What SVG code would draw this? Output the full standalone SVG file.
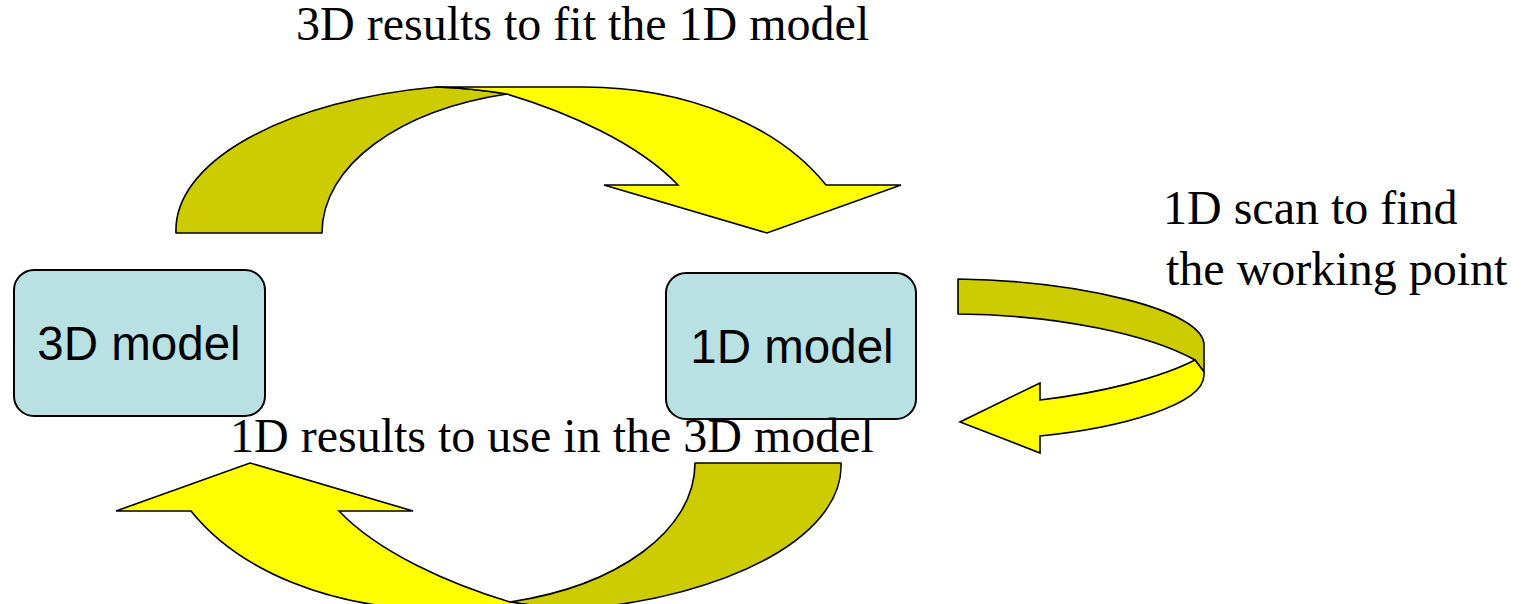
<svg xmlns="http://www.w3.org/2000/svg" width="1524" height="604" viewBox="0 0 1524 604">
  <style>
    .back { fill: #cccc00; stroke: #000; stroke-width: 1.6; stroke-linejoin: round; }
    .front { fill: #ffff00; stroke: #000; stroke-width: 1.6; stroke-linejoin: miter; }
    .box { fill: #b9e0e3; stroke: #000; stroke-width: 2; }
    .boxlabel { font-family: "Liberation Sans", Arial, sans-serif; font-size: 47.5px; fill: #000; text-anchor: middle; }
    .label { font-family: "Liberation Serif", "Times New Roman", serif; font-size: 48px; fill: #000; }
  </style>
  <defs>
    <!-- curved arrow: back face (olive) + front face with head (yellow) -->
    <g id="curved-arrow">
      <path class="back" d="M176,233 A324,146 0 0 1 436,87 Q470,88 507,94 C400,110 322,165 322,233 Z"/>
      <path class="front" d="M436,87 L584,87 A276,188 0 0 1 826,185 L901,185 L767,233 L604,185 L678,185 C638,143 567,112 507,94 Q470,88 436,87 Z"/>
    </g>
  </defs>

  <rect width="1524" height="604" fill="#ffffff"/>

  <!-- connectors -->
  <g id="connectors">
    <g id="arrow-3d-to-1d">
      <use href="#curved-arrow"/>
    </g>
    <g id="arrow-1d-to-3d">
      <use href="#curved-arrow" transform="rotate(180 508.5 348)"/>
    </g>
    <g id="arrow-1d-scan">
      <path class="back" d="M958,279 C1080,281 1204,310 1204,345 L1204,372 L1195,360 C1150,335 1060,315 958,314 Z"/>
      <path class="front" d="M1195,360 C1160,378 1100,393 1040,400 L1040,383 L960,422 L1040,453 L1040,436 C1120,428 1204,405 1204,375 L1204,372 Z"/>
    </g>
  </g>

  <!-- nodes -->
  <g id="node-3d-model">
    <rect class="box" x="14" y="270" width="251" height="146" rx="20" ry="20"/>
    <text class="boxlabel" x="139" y="360">3D model</text>
  </g>
  <g id="node-1d-model">
    <rect class="box" x="666" y="273" width="250" height="146" rx="20" ry="20"/>
    <text class="boxlabel" x="792" y="363">1D model</text>
  </g>

  <!-- labels -->
  <g id="labels">
    <text class="label" x="296" y="40">3D results to fit the 1D model</text>
    <text class="label" x="1163" y="224">1D scan to find</text>
    <text class="label" x="1166" y="285">the working point</text>
    <text class="label" x="230" y="452">1D results to use in the 3D model</text>
  </g>
</svg>
